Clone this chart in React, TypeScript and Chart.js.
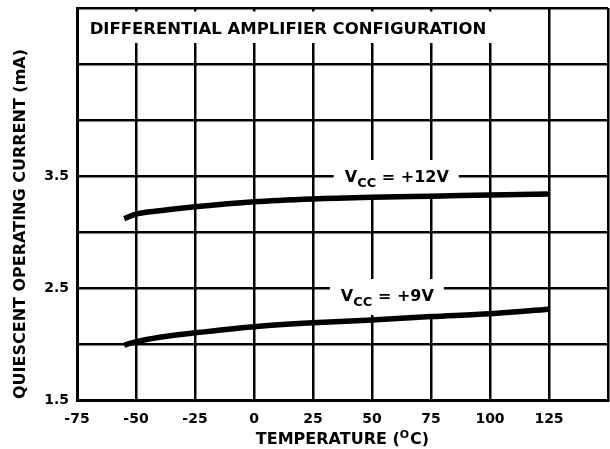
import React, { useEffect, useRef } from 'react';
import { Chart, registerables } from 'chart.js';

Chart.register(...registerables);

// ---- data ----
const temps12V = [-55, -50, -40, -25, 0, 25, 50, 75, 100, 125];
const current12V = [3.12, 3.16, 3.19, 3.225, 3.27, 3.295, 3.31, 3.32, 3.33, 3.34];
const temps9V = [-55, -50, -40, -25, 0, 25, 50, 75, 100, 125];
const current9V = [1.99, 2.02, 2.06, 2.1, 2.155, 2.19, 2.215, 2.245, 2.27, 2.31];

const xTickValues = [-75, -50, -25, 0, 25, 50, 75, 100, 125, 150];
const xTickLabels = ['-75', '-50', '-25', '0', '25', '50', '75', '100', '125', ''];
const yTickValues = [1.5, 2, 2.5, 3, 3.5, 4, 4.5, 5];
const yTickLabels = ['1.5', '', '2.5', '', '3.5', '', '', ''];

const chartTitle = 'DIFFERENTIAL AMPLIFIER CONFIGURATION';
const yAxisTitle = 'QUIESCENT OPERATING CURRENT (mA)';
const xAxisTitleParts = ['TEMPERATURE (', 'O', 'C)'];
const curveLabels = [
  { main: 'V', sub: 'CC', rest: ' = +12V', atX: 60.5, atY: 3.5, dy: 6 },
  { main: 'V', sub: 'CC', rest: ' = +9V', atX: 56.5, atY: 2.5, dy: 13 },
];

const FONT = '"DejaVu Sans", sans-serif';

const annotations = {
  id: 'annotations',
  beforeDatasetsDraw(chart: any) {
    const { ctx, chartArea, scales } = chart;
    const xs = scales.x;
    const ys = scales.y;
    ctx.save();
    // title box
    ctx.fillStyle = '#fff';
    ctx.fillRect(chartArea.left + 3, chartArea.top + 3.5, 415, 31.5);
    ctx.fillStyle = '#000';
    ctx.font = `bold 16.5px ${FONT}`;
    ctx.textAlign = 'center';
    ctx.textBaseline = 'alphabetic';
    ctx.fillText(chartTitle, 288, 33.5);

    // curve labels
    for (const l of curveLabels) {
      ctx.textAlign = 'left';
      ctx.font = `bold 16px ${FONT}`;
      const wMain = ctx.measureText(l.main).width;
      const wRest = ctx.measureText(l.rest).width;
      ctx.font = `bold 13px ${FONT}`;
      const wSub = ctx.measureText(l.sub).width;
      const total = wMain + wSub + wRest;
      const cx = xs.getPixelForValue(l.atX);
      const base = ys.getPixelForValue(l.atY) + l.dy;
      const x0 = cx - total / 2;
      ctx.fillStyle = '#fff';
      ctx.fillRect(x0 - 11, base - 22, total + 21, 36);
      ctx.fillStyle = '#000';
      ctx.font = `bold 16px ${FONT}`;
      ctx.fillText(l.main, x0, base);
      ctx.font = `bold 13px ${FONT}`;
      ctx.fillText(l.sub, x0 + wMain, base + 4.5);
      ctx.font = `bold 16px ${FONT}`;
      ctx.fillText(l.rest, x0 + wMain + wSub, base);
    }
    ctx.restore();
  },
  afterDraw(chart: any) {
    const { ctx, chartArea } = chart;
    ctx.save();
    ctx.fillStyle = '#000';
    // y axis title
    ctx.font = `bold 16px ${FONT}`;
    ctx.textAlign = 'center';
    ctx.textBaseline = 'alphabetic';
    ctx.translate(25, 224);
    ctx.rotate(-Math.PI / 2);
    ctx.fillText(yAxisTitle, 0, 0);
    ctx.restore();

    ctx.save();
    ctx.fillStyle = '#000';
    ctx.textAlign = 'left';
    ctx.textBaseline = 'alphabetic';
    ctx.font = `bold 16px ${FONT}`;
    const w0 = ctx.measureText(xAxisTitleParts[0]).width;
    const w2 = ctx.measureText(xAxisTitleParts[2]).width;
    ctx.font = `bold 11px ${FONT}`;
    const w1 = ctx.measureText(xAxisTitleParts[1]).width;
    const total = w0 + w1 + w2 + 1;
    const cx = (chartArea.left + chartArea.right) / 2;
    let x = cx - total / 2;
    const base = 444;
    ctx.font = `bold 16px ${FONT}`;
    ctx.fillText(xAxisTitleParts[0], x, base);
    x += w0;
    ctx.font = `bold 11px ${FONT}`;
    ctx.fillText(xAxisTitleParts[1], x, base - 6);
    x += w1 + 1;
    ctx.font = `bold 16px ${FONT}`;
    ctx.fillText(xAxisTitleParts[2], x, base);
    ctx.restore();
  },
};

const zeroPad = (s: any) => {
  s.paddingTop = 0;
  s.paddingBottom = 0;
  s.paddingLeft = 0;
  s.paddingRight = 0;
};

export default function App() {
  const ref = useRef<HTMLCanvasElement | null>(null);
  useEffect(() => {
    if (!ref.current) return;
    const chart = new Chart(ref.current, {
      type: 'line',
      data: {
        datasets: [
          {
            label: 'VCC = +12V',
            data: temps12V.map((t, i) => ({ x: t, y: current12V[i] })),
            borderColor: '#000',
            borderWidth: 5.5,
            pointRadius: 0,
            cubicInterpolationMode: 'monotone',
            borderCapStyle: 'butt',
            fill: false,
          },
          {
            label: 'VCC = +9V',
            data: temps9V.map((t, i) => ({ x: t, y: current9V[i] })),
            borderColor: '#000',
            borderWidth: 5.5,
            pointRadius: 0,
            cubicInterpolationMode: 'monotone',
            borderCapStyle: 'butt',
            fill: false,
          },
        ],
      },
      options: {
        animation: false,
        responsive: true,
        maintainAspectRatio: false,
        layout: { padding: { top: 8, right: 2, left: 0, bottom: 0 } },
        plugins: {
          legend: { display: false },
          tooltip: { enabled: false },
          title: { display: false },
        },
        scales: {
          x: {
            type: 'linear',
            min: -75,
            max: 150,
            afterBuildTicks: (s: any) => {
              s.ticks = xTickValues.map((v) => ({ value: v }));
            },
            afterFit: (s: any) => {
              s.height = 49;
              zeroPad(s);
            },
            grid: { color: '#000', lineWidth: 2.5, drawTicks: false },
            border: { color: '#000', width: 3 },
            ticks: {
              autoSkip: false,
              maxRotation: 0,
              padding: 11,
              color: '#000',
              font: { family: FONT, size: 14, weight: 'bold' },
              callback: (_v: any, i: number) => xTickLabels[i],
            },
          },
          y: {
            type: 'linear',
            min: 1.5,
            max: 5,
            afterBuildTicks: (s: any) => {
              s.ticks = yTickValues.map((v) => ({ value: v }));
            },
            afterFit: (s: any) => {
              s.width = 77;
              zeroPad(s);
            },
            grid: { color: '#000', lineWidth: 2.5, drawTicks: false },
            border: { color: '#000', width: 3 },
            ticks: {
              autoSkip: false,
              padding: 8,
              color: '#000',
              font: { family: FONT, size: 14, weight: 'bold' },
              callback: (_v: any, i: number) => yTickLabels[i],
            },
          },
        },
      },
      plugins: [annotations],
    } as any);
    return () => chart.destroy();
  }, []);

  return (
    <div style={{ position: 'fixed', left: 0, top: 0, width: 610, height: 449, background: '#fff' }}>
      <canvas ref={ref} />
    </div>
  );
}
